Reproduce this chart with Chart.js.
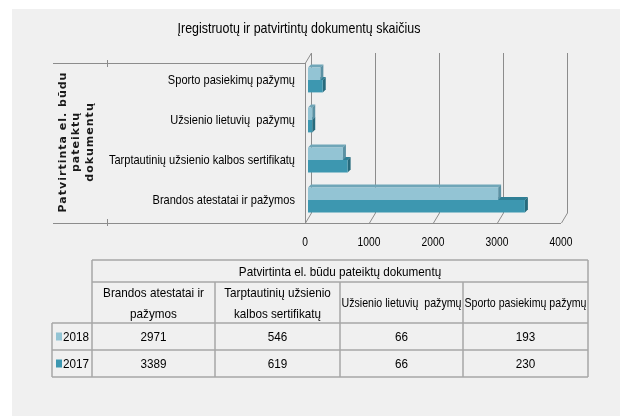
<!DOCTYPE html>
<html>
<head>
<meta charset="utf-8">
<script src="https://cdn.jsdelivr.net/npm/chart.js@4/dist/chart.umd.min.js"></script>
<style>
  body { margin: 0; background: #fff; }
  canvas { display: block; }
</style>
</head>
<body>
<canvas id="chart" width="620" height="416"></canvas>
<script>
// data, in the order of the data table
var chartTitle = 'Įregistruotų ir patvirtintų dokumentų skaičius';
var groupTitle = 'Patvirtinta el. būdu pateiktų dokumentų';
var axisTitle = ['Patvirtinta el. būdu', 'pateiktų', 'dokumentų'];
var categories = ['Brandos atestatai ir pažymos', 'Tarptautinių užsienio kalbos sertifikatų', 'Užsienio lietuvių  pažymų', 'Sporto pasiekimų pažymų'];
var tableHeadLines = [['Brandos atestatai ir', 'pažymos'], ['Tarptautinių užsienio', 'kalbos sertifikatų'], ['Užsienio lietuvių  pažymų'], ['Sporto pasiekimų pažymų']];
var years = ['2018', '2017'];
var values2018 = [2971, 546, 66, 193];
var values2017 = [3389, 619, 66, 230];
var xTicks = [0, 1000, 2000, 3000, 4000];

var FONT = "'Liberation Sans', Arial, sans-serif";
var colors = ['#93c4d4', '#3d97b0'];
var topFaces = ['#6fa6b8', '#2f7f95'];
var sideFaces = ['#5b91a3', '#276a7c'];
var gridColor = '#8c8c8c';
var tableLine = '#a6a6a6';

// condensed text: the original uses a narrow font, so squeeze horizontally
function narrowText(ctx, text, x, y, size, sx, align, maxW) {
    ctx.save();
    ctx.font = size + 'px ' + FONT;
    ctx.fillStyle = '#000';
    ctx.textAlign = align || 'center';
    ctx.textBaseline = 'middle';
    if (maxW) {
        var w = ctx.measureText(text).width;
        if (w * sx > maxW) sx = maxW / w;
    }
    ctx.translate(x, y);
    ctx.scale(sx, 1);
    ctx.fillText(text, 0, 0);
    ctx.restore();
}

// grey panel behind everything
var panel = {
    id: 'panel',
    beforeDraw: function(chart) {
        var ctx = chart.ctx;
        ctx.save();
        ctx.fillStyle = '#f0f0f0';
        ctx.fillRect(12, 9, chart.width - 12, chart.height - 9);
        ctx.restore();
    }
};

// 3d walls, grid and bar faces (drawn behind the flat bars)
var frame3d = {
    id: 'frame3d',
    beforeDatasetsDraw: function(chart) {
        var ctx = chart.ctx;
        var xs = chart.scales.x;
        var a = chart.chartArea;
        var dx = 3, dy = 5;
        var yMid = a.bottom - 2;
        var yTop = a.top - 2;
        var x0 = xs.getPixelForValue(xTicks[0]);
        ctx.save();
        ctx.strokeStyle = gridColor;
        ctx.lineWidth = 1;
        ctx.beginPath();
        // back wall grid + floor diagonals
        xTicks.forEach(function(v) {
            var px = xs.getPixelForValue(v);
            ctx.moveTo(px + dx + 0.5, yTop - dy);
            ctx.lineTo(px + dx + 0.5, yMid - dy);
            ctx.lineTo(px - dx + 0.5, yMid + dy);
        });
        // floor front edge
        ctx.moveTo(x0 - dx, yMid + dy + 0.5);
        ctx.lineTo(xs.getPixelForValue(xTicks[xTicks.length - 1]) - dx, yMid + dy + 0.5);
        // left wall
        ctx.moveTo(x0 - dx + 0.5, yMid + dy);
        ctx.lineTo(x0 - dx + 0.5, yTop + dy);
        ctx.lineTo(x0 + dx + 0.5, yTop - dy);
        // category box lines on the left
        ctx.moveTo(53, yTop + dy + 0.5);
        ctx.lineTo(x0 - dx, yTop + dy + 0.5);
        ctx.moveTo(53, yMid + dy + 0.5);
        ctx.lineTo(x0 - dx, yMid + dy + 0.5);
        ctx.moveTo(107.5, yTop + dy - 3);
        ctx.lineTo(107.5, yTop + dy + 4);
        ctx.moveTo(107.5, yMid + dy - 4);
        ctx.lineTo(107.5, yMid + dy + 3);
        ctx.stroke();

        // bar faces
        var d = 3;
        for (var di = chart.data.datasets.length - 1; di >= 0; di--) {
            var meta = chart.getDatasetMeta(di);
            meta.data.forEach(function(bar) {
                var top = bar.y - bar.height / 2;
                var bottom = bar.y + bar.height / 2;
                ctx.fillStyle = topFaces[di];
                ctx.beginPath();
                ctx.moveTo(bar.base, top);
                ctx.lineTo(bar.x, top);
                ctx.lineTo(bar.x + d, top - d);
                ctx.lineTo(bar.base + d, top - d);
                ctx.closePath();
                ctx.fill();
                ctx.fillStyle = sideFaces[di];
                ctx.beginPath();
                ctx.moveTo(bar.x, top);
                ctx.lineTo(bar.x + d, top - d);
                ctx.lineTo(bar.x + d, bottom - d);
                ctx.lineTo(bar.x, bottom);
                ctx.closePath();
                ctx.fill();
            });
        }
        ctx.restore();
    }
};

// title, axis labels and axis title
var labels = {
    id: 'labels',
    afterDraw: function(chart) {
        var ctx = chart.ctx;
        var xs = chart.scales.x;
        var ys = chart.scales.y;
        var a = chart.chartArea;
        narrowText(ctx, chartTitle, 299, 29, 15, 0.83);
        xs.ticks.forEach(function(t) {
            narrowText(ctx, String(t.value), xs.getPixelForValue(t.value) - 3, 243, 12.5, 0.82);
        });
        ys.ticks.forEach(function(t, i) {
            narrowText(ctx, categories[t.value], a.left - 13, ys.getPixelForTick(i), 13, 0.85, 'right');
        });
        ctx.save();
        ctx.font = 'bold 11px ' + "'DejaVu Sans', sans-serif";
        ctx.letterSpacing = '1px';
        ctx.fillStyle = '#1a1a1a';
        ctx.textAlign = 'center';
        ctx.textBaseline = 'middle';
        ctx.translate(63, (a.top + a.bottom) / 2 + 2);
        ctx.rotate(-Math.PI / 2);
        axisTitle.forEach(function(t, k) {
            ctx.fillText(t, 0, k * 13.5);
        });
        ctx.restore();
    }
};

// data table under the chart
var dataTable = {
    id: 'dataTable',
    afterDraw: function(chart) {
        var ctx = chart.ctx;
        var cols = [92, 215, 340, 463, 588];
        var left = 52;
        var rows = [260, 282, 323, 350, 377];
        var series = [values2018, values2017];
        var sx = 0.9;
        ctx.save();
        ctx.strokeStyle = tableLine;
        ctx.lineWidth = 1.5;
        ctx.beginPath();
        ctx.moveTo(cols[0], rows[0]); ctx.lineTo(cols[4], rows[0]);
        ctx.moveTo(cols[0], rows[1]); ctx.lineTo(cols[4], rows[1]);
        for (var r = 2; r < rows.length; r++) {
            ctx.moveTo(left, rows[r]); ctx.lineTo(cols[4], rows[r]);
        }
        ctx.moveTo(cols[0], rows[0]); ctx.lineTo(cols[0], rows[4]);
        ctx.moveTo(cols[4], rows[0]); ctx.lineTo(cols[4], rows[4]);
        for (var c = 1; c < 4; c++) {
            ctx.moveTo(cols[c], rows[1]); ctx.lineTo(cols[c], rows[4]);
        }
        ctx.moveTo(left, rows[2]); ctx.lineTo(left, rows[4]);
        ctx.stroke();
        ctx.restore();

        narrowText(ctx, groupTitle, (cols[0] + cols[4]) / 2, (rows[0] + rows[1]) / 2 + 1, 13, sx);
        for (var i = 0; i < categories.length; i++) {
            var cx = (cols[i] + cols[i + 1]) / 2;
            var w = cols[i + 1] - cols[i] - 3;
            var lines = tableHeadLines[i];
            var cy = (rows[1] + rows[2]) / 2 + 1;
            lines.forEach(function(t, k) {
                narrowText(ctx, t, cx, cy + (k - (lines.length - 1) / 2) * 21, 13, sx, 'center', w);
            });
            for (var s = 0; s < series.length; s++) {
                narrowText(ctx, String(series[s][i]), cx, (rows[2 + s] + rows[3 + s]) / 2 + 1, 13, sx);
            }
        }
        for (var s2 = 0; s2 < years.length; s2++) {
            var ry = (rows[2 + s2] + rows[3 + s2]) / 2;
            ctx.fillStyle = colors[s2];
            ctx.fillRect(56, ry - 4, 6, 8);
            narrowText(ctx, years[s2], 89, ry + 1, 13, sx, 'right');
        }
    }
};

var ctx = document.getElementById('chart').getContext('2d');
var chart = new Chart(ctx, {
    type: 'bar',
    data: {
        labels: categories,
        datasets: [
            { label: years[0], data: values2018, backgroundColor: colors[0], borderWidth: 0 },
            { label: years[1], data: values2017, backgroundColor: colors[1], borderWidth: 0 }
        ]
    },
    options: {
        indexAxis: 'y',
        responsive: false,
        animation: false,
        categoryPercentage: 0.62,
        barPercentage: 1,
        layout: { padding: { left: 50, right: 56, top: 60, bottom: 0 } },
        plugins: {
            legend: { display: false },
            tooltip: { enabled: false },
            title: { display: false }
        },
        scales: {
            x: {
                type: 'linear',
                min: 0,
                max: 4000,
                afterFit: function(scale) { scale.height = 196; },
                grid: { display: false, drawTicks: false },
                border: { display: false },
                ticks: { stepSize: 1000, display: false }
            },
            y: {
                reverse: true,
                afterFit: function(scale) { scale.width = 258; },
                grid: { display: false, drawTicks: false },
                border: { display: false },
                ticks: { display: false }
            }
        }
    },
    plugins: [panel, frame3d, labels, dataTable]
});
</script>
</body>
</html>
